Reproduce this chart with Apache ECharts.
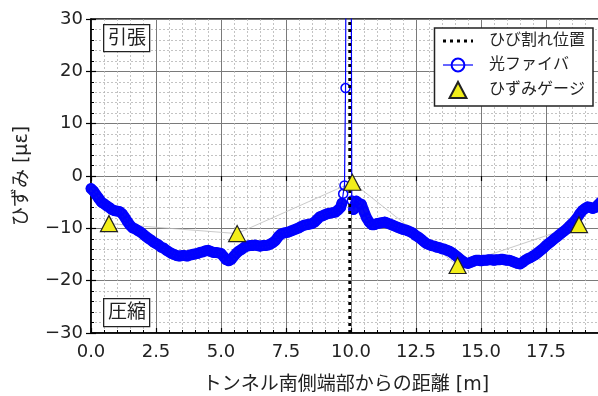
<!DOCTYPE html>
<html><head><meta charset="utf-8">
<script src="https://cdn.jsdelivr.net/npm/echarts@6/dist/echarts.min.js"></script>
<style>html,body{margin:0;padding:0;background:#fff}#c{width:598px;height:396px}</style>
</head><body><div id="c"></div>
<script>
// ---- data ----
const fiberDist = [
0.0,0.1,0.2,0.3,0.4,0.5,0.6,0.7,0.8,0.9,1.0,1.1,1.2,1.3,1.4,1.5,1.6,1.7,1.8,1.9,
2.0,2.1,2.2,2.3,2.4,2.5,2.6,2.7,2.8,2.9,3.0,3.1,3.2,3.3,3.4,3.5,3.6,3.7,3.8,3.9,
4.0,4.1,4.2,4.3,4.4,4.5,4.6,4.7,4.8,4.9,5.0,5.1,5.2,5.3,5.4,5.5,5.6,5.7,5.8,5.9,
6.0,6.1,6.2,6.3,6.4,6.5,6.6,6.7,6.8,6.9,7.0,7.1,7.2,7.3,7.4,7.5,7.6,7.7,7.8,7.9,
8.0,8.1,8.2,8.3,8.4,8.5,8.6,8.7,8.8,8.9,9.0,9.1,9.2,9.3,9.4,9.5,9.6,9.65,9.70,9.75,
9.79,9.82,10.0,10.03,10.1,10.2,10.3,10.4,10.5,10.6,10.7,10.8,10.9,
11.0,11.1,11.2,11.3,11.4,11.5,11.6,11.7,11.8,11.9,12.0,12.1,12.2,12.3,12.4,12.5,12.6,12.7,12.8,12.9,
13.0,13.1,13.2,13.3,13.4,13.5,13.6,13.7,13.8,13.9,14.0,14.1,14.2,14.3,14.4,14.5,14.6,14.7,14.8,14.9,
15.0,15.1,15.2,15.3,15.4,15.5,15.6,15.7,15.8,15.9,16.0,16.1,16.2,16.3,16.4,16.5,16.6,16.7,16.8,16.9,
17.0,17.1,17.2,17.3,17.4,17.5,17.6,17.7,17.8,17.9,18.0,18.1,18.2,18.3,18.4,18.5,18.6,18.7,18.8,18.9,
19.0,19.1,19.2,19.3,19.4,19.5,19.6,19.7
];
const fiberStrain = [
-2.4,-2.9,-3.6,-4.3,-5.0,-5.3,-5.7,-6.0,-6.4,-6.6,-6.7,-6.8,-7.2,-7.9,-8.7,-9.4,-9.9,-10.1,-10.4,-10.7,
-11.1,-11.5,-11.9,-12.2,-12.6,-12.9,-13.2,-13.6,-13.8,-14.2,-14.5,-14.8,-15.0,-15.2,-15.3,-15.2,-15.2,-15.3,-15.1,-15.0,
-14.9,-14.8,-14.6,-14.5,-14.3,-14.2,-14.4,-14.6,-14.6,-14.7,-14.8,-15.4,-16.0,-16.2,-15.9,-15.3,-14.7,-14.3,-14.0,-13.6,
-13.4,-13.3,-13.3,-13.2,-13.3,-13.4,-13.3,-13.3,-13.2,-13.0,-12.7,-12.3,-11.6,-11.1,-10.9,-10.8,-10.7,-10.5,-10.3,-10.1,
-9.9,-9.6,-9.4,-9.3,-9.2,-9.1,-8.8,-8.3,-7.8,-7.6,-7.4,-7.2,-7.1,-7.0,-6.9,-6.5,-6.0,-5.2,-3.4,-1.8,
16.8,60,60,-4.7,-6.4,-4.8,-5.2,-5.4,-6.8,-8.0,-8.8,-9.3,-9.3,
-9.1,-9.0,-8.9,-8.8,-9.0,-9.2,-9.4,-9.6,-9.8,-10.0,-10.2,-10.3,-10.5,-10.7,-11.0,-11.4,-11.7,-12.1,-12.5,-12.9,
-13.1,-13.3,-13.4,-13.6,-13.7,-13.9,-14.0,-14.2,-14.4,-14.7,-15.1,-15.5,-15.9,-16.3,-16.6,-16.7,-16.5,-16.3,-16.1,-16.1,
-16.2,-16.1,-16.1,-16.0,-16.0,-16.1,-16.0,-16.0,-15.9,-16.0,-16.1,-16.1,-16.3,-16.5,-16.7,-16.8,-16.5,-16.1,-15.8,-15.6,
-15.3,-15.0,-14.6,-14.2,-13.8,-13.3,-12.9,-12.5,-12.1,-11.7,-11.3,-10.9,-10.5,-10.1,-9.6,-9.1,-8.6,-8.0,-7.2,-6.6,
-6.2,-5.9,-6.0,-6.2,-6.0,-5.5,-5.0,-4.6
];
const gaugeDist = [0.69, 5.62, 10.05, 14.10, 18.77];
const gaugeStrain = [-9.1, -11.0, -1.2, -17.1, -9.3];
const crackDist = [9.95, 9.95];
const crackStrain = [-30, 30];
const xTicks = {min: 0, max: 20, step: 2.5};
const yTicks = {min: -30, max: 30, step: 10};
const seriesNames = ['ひび割れ位置', '光ファイバ', 'ひずみゲージ'];
const xTitle = 'トンネル南側端部からの距離 [m]';
const yTitle = 'ひずみ [με]';
const zoneTop = '引張';
const zoneBottom = '圧縮';

const zip = (a, b) => a.map((v, i) => [v, b[i]]);
// dense band under the circles: same readings, with the isolated spike samples (9.7–10.05 m) left out
const bandData = [];
fiberDist.forEach((x, i) => {
  if (x > 9.66 && x < 10.06) { if (bandData.length && bandData[bandData.length - 1] !== null) bandData.push(null); }
  else bandData.push([x, fiberStrain[i]]);
});
const FONT = "'DejaVu Sans', 'Noto Sans CJK JP', sans-serif";
const fmtY = v => v < 0 ? '\u2212' + (-v) : String(v);
const fmtX = v => v.toFixed(1);

const chart = echarts.init(document.getElementById('c'), null, {renderer: 'canvas'});

const baseX = {type: 'value', min: xTicks.min, max: xTicks.max, interval: xTicks.step};
const baseY = {type: 'value', min: yTicks.min, max: yTicks.max, interval: yTicks.step};

chart.setOption({
  animation: false,
  backgroundColor: '#fff',
  grid: {left: 91, top: 19, width: 520, height: 314, containLabel: false, outerBoundsMode: 'none',
         show: true, borderColor: '#000', borderWidth: 1.5, backgroundColor: 'transparent'},
  xAxis: [
    Object.assign({}, baseX, {
      position: 'bottom',
      name: xTitle, nameLocation: 'middle', nameGap: 43,
      nameTextStyle: {fontFamily: FONT, fontSize: 19, color: '#222', padding: [0, 10, 0, 0]},
      axisLine: {show: true, onZero: false, lineStyle: {color: '#000', width: 1.5}},
      axisTick: {show: true, inside: true, length: 5, lineStyle: {color: '#000', width: 1.2}},
      minorTick: {show: true, splitNumber: 5, length: 3, lineStyle: {color: '#000', width: 1}},
      axisLabel: {formatter: fmtX, fontFamily: FONT, fontSize: 18, color: '#222', margin: 10, showMaxLabel: false},
      splitLine: {show: true, lineStyle: {color: '#7a7a7a', width: 1}},
      minorSplitLine: {show: true, lineStyle: {color: '#b4b4b4', width: 0.8, type: [2, 2]}}
    }),
    Object.assign({}, baseX, {
      position: 'bottom',
      axisLine: {show: false}, axisLabel: {show: false},
      axisTick: {show: true, inside: false, length: 5, lineStyle: {color: '#000', width: 1.2}},
      splitLine: {show: false}
    })
  ],
  yAxis: [
    Object.assign({}, baseY, {
      position: 'left',
      name: yTitle, nameLocation: 'middle', nameGap: 59, nameRotate: 90,
      nameTextStyle: {fontFamily: FONT, fontSize: 19, color: '#222'},
      axisLine: {show: true, onZero: false, lineStyle: {color: '#000', width: 1.5}},
      axisTick: {show: true, inside: true, length: 5, lineStyle: {color: '#000', width: 1.2}},
      minorTick: {show: true, splitNumber: 5, length: 3, lineStyle: {color: '#000', width: 1}},
      axisLabel: {formatter: fmtY, fontFamily: FONT, fontSize: 18, color: '#222', margin: 8},
      splitLine: {show: true, lineStyle: {color: '#7a7a7a', width: 1}},
      minorSplitLine: {show: true, lineStyle: {color: '#b4b4b4', width: 0.8, type: [2, 2]}}
    }),
    Object.assign({}, baseY, {
      position: 'left',
      axisLine: {show: false}, axisLabel: {show: false},
      axisTick: {show: true, inside: false, length: 5, lineStyle: {color: '#000', width: 1.2}},
      splitLine: {show: false}
    })
  ],
  legend: {
    orient: 'vertical', right: 5, top: 28,
    data: [
      {name: seriesNames[0], itemStyle: {opacity: 0}, lineStyle: {width: 3, type: [3, 4], color: '#000'}},
      {name: seriesNames[1], lineStyle: {width: 1.2}},
      {name: seriesNames[2], icon: 'path://M0,0M30,17M6,17L15,0L24,17Z'}
    ],
    itemWidth: 30, itemHeight: 16, itemGap: 8,
    padding: [5, 8, 7, 7],
    borderColor: '#222', borderWidth: 1.5, backgroundColor: '#fff', borderRadius: 0,
    textStyle: {fontFamily: FONT, fontSize: 16, color: '#222', padding: [0, 0, 0, 11]},
    z: 10
  },
  graphic: [
    {type: 'rect', left: 103, top: 24, shape: {width: 46, height: 27},
     style: {fill: '#fff', stroke: '#222', lineWidth: 1.3}, z: 20},
    {type: 'text', left: 108, top: 27, style: {text: zoneTop, font: "19px 'Noto Sans CJK JP'", fill: '#222'}, z: 21},
    {type: 'rect', left: 103, top: 298, shape: {width: 46, height: 28},
     style: {fill: '#fff', stroke: '#222', lineWidth: 1.3}, z: 20},
    {type: 'text', left: 108, top: 301, style: {text: zoneBottom, font: "19px 'Noto Sans CJK JP'", fill: '#222'}, z: 21}
  ],
  series: [
    {
      name: 'gaugeLink', type: 'line', data: zip(gaugeDist, gaugeStrain),
      symbol: 'none', lineStyle: {color: '#bdbdbd', width: 0.8}, z: 2, silent: true
    },
    {
      name: 'fiberBand', type: 'line', data: bandData, connectNulls: false,
      symbol: 'none', lineStyle: {color: '#0a0af5', width: 11, cap: 'round', join: 'round'}, z: 3, silent: true
    },
    {
      name: seriesNames[1], type: 'line', data: zip(fiberDist, fiberStrain),
      symbol: 'circle', symbolSize: 9, showAllSymbol: true,
      itemStyle: {color: 'rgba(0,0,0,0)', borderColor: '#0000ff', borderWidth: 1.5},
      lineStyle: {color: '#0000ff', width: 1.2}, z: 3, clip: true
    },
    {
      name: seriesNames[0], type: 'line', data: zip(crackDist, crackStrain),
      symbol: 'none', lineStyle: {color: '#000', width: 2.8, type: [3, 4]},
      itemStyle: {color: 'rgba(0,0,0,0)'}, z: 4
    },
    {
      name: seriesNames[2], type: 'scatter', data: zip(gaugeDist, gaugeStrain),
      symbol: 'triangle', symbolSize: [17, 16],
      itemStyle: {color: '#f2ee1a', borderColor: '#222', borderWidth: 1.2, opacity: 1}, z: 5
    }
  ]
});
</script></body></html>
